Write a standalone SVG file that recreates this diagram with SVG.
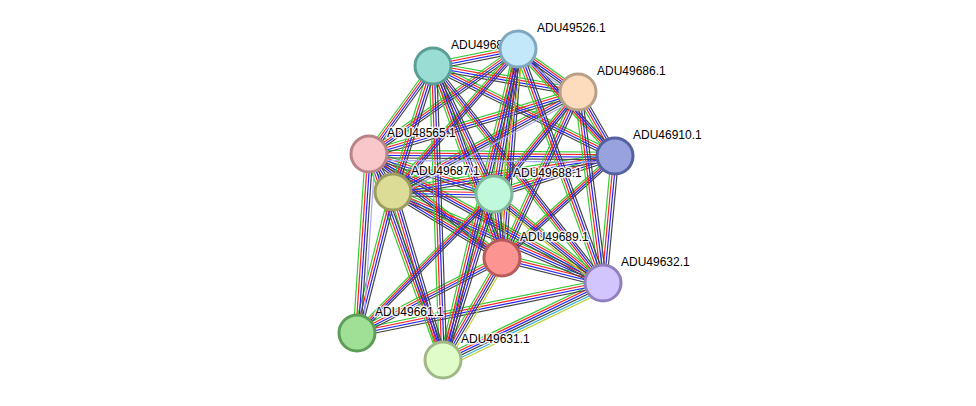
<svg xmlns="http://www.w3.org/2000/svg" xmlns:xlink="http://www.w3.org/1999/xlink" width="976" height="406" viewBox="0 0 976 406">
<style>
.lbl{font-family:"Liberation Sans",Arial,sans-serif;font-size:12px;fill:#000;stroke:#fff;stroke-width:3px;stroke-opacity:0.85;paint-order:stroke;stroke-linejoin:round}
.e{fill:none;stroke-width:1.2}
.nd{stroke-width:3}
</style>
<defs>
<g id="eH">
<line x1="433" y1="66" x2="518" y2="49"/>
<line x1="433" y1="66" x2="578" y2="92"/>
<line x1="433" y1="66" x2="615" y2="156"/>
<line x1="518" y1="49" x2="578" y2="92"/>
<line x1="518" y1="49" x2="369" y2="154"/>
<line x1="578" y1="92" x2="369" y2="154"/>
<line x1="578" y1="92" x2="393" y2="192"/>
<line x1="615" y1="156" x2="369" y2="154"/>
<line x1="615" y1="156" x2="393" y2="192"/>
<line x1="615" y1="156" x2="494" y2="194"/>
<line x1="615" y1="156" x2="502" y2="258"/>
<line x1="369" y1="154" x2="494" y2="194"/>
<line x1="369" y1="154" x2="502" y2="258"/>
<line x1="369" y1="154" x2="603" y2="283"/>
<line x1="393" y1="192" x2="494" y2="194"/>
<line x1="393" y1="192" x2="502" y2="258"/>
<line x1="393" y1="192" x2="603" y2="283"/>
<line x1="494" y1="194" x2="603" y2="283"/>
<line x1="502" y1="258" x2="603" y2="283"/>
<line x1="502" y1="258" x2="357" y2="333"/>
<line x1="603" y1="283" x2="357" y2="333"/>
<line x1="603" y1="283" x2="443" y2="360"/>
</g>
<g id="eV">
<line x1="433" y1="66" x2="369" y2="154"/>
<line x1="433" y1="66" x2="393" y2="192"/>
<line x1="433" y1="66" x2="494" y2="194"/>
<line x1="433" y1="66" x2="502" y2="258"/>
<line x1="433" y1="66" x2="603" y2="283"/>
<line x1="433" y1="66" x2="443" y2="360"/>
<line x1="518" y1="49" x2="615" y2="156"/>
<line x1="518" y1="49" x2="393" y2="192"/>
<line x1="518" y1="49" x2="494" y2="194"/>
<line x1="518" y1="49" x2="502" y2="258"/>
<line x1="518" y1="49" x2="603" y2="283"/>
<line x1="518" y1="49" x2="443" y2="360"/>
<line x1="578" y1="92" x2="615" y2="156"/>
<line x1="578" y1="92" x2="494" y2="194"/>
<line x1="578" y1="92" x2="502" y2="258"/>
<line x1="578" y1="92" x2="603" y2="283"/>
<line x1="615" y1="156" x2="603" y2="283"/>
<line x1="369" y1="154" x2="393" y2="192"/>
<line x1="369" y1="154" x2="357" y2="333"/>
<line x1="369" y1="154" x2="443" y2="360"/>
<line x1="393" y1="192" x2="357" y2="333"/>
<line x1="393" y1="192" x2="443" y2="360"/>
<line x1="494" y1="194" x2="502" y2="258"/>
<line x1="494" y1="194" x2="357" y2="333"/>
<line x1="494" y1="194" x2="443" y2="360"/>
<line x1="502" y1="258" x2="443" y2="360"/>
</g>
</defs>
<rect width="976" height="406" fill="#fff"/>
<g id="connectors" class="e">
<use href="#eH" xlink:href="#eH" stroke="#33cc33" transform="translate(0,-3.75)"/>
<use href="#eH" xlink:href="#eH" stroke="#ff2222" transform="translate(0,-1.25)"/>
<use href="#eH" xlink:href="#eH" stroke="#2222ff" transform="translate(0,1.25)"/>
<use href="#eH" xlink:href="#eH" stroke="#444444" transform="translate(0,3.75)"/>
<use href="#eV" xlink:href="#eV" stroke="#33cc33" transform="translate(-3.75,0)"/>
<use href="#eV" xlink:href="#eV" stroke="#ff2222" transform="translate(-1.25,0)"/>
<use href="#eV" xlink:href="#eV" stroke="#2222ff" transform="translate(1.25,0)"/>
<use href="#eV" xlink:href="#eV" stroke="#444444" transform="translate(3.75,0)"/>
<g stroke="#a8a8f8">
<line x1="518" y1="55.3" x2="578" y2="98.3"/>
<line x1="578" y1="98.3" x2="393" y2="198.3"/>
<line x1="615" y1="162.3" x2="369" y2="160.3"/>
<line x1="375.3" y1="154" x2="363.3" y2="333"/>
</g>
<g stroke="#c0d030">
<line x1="524.3" y1="49" x2="500.3" y2="194"/>
<line x1="500.3" y1="194" x2="508.3" y2="258"/>
<line x1="494" y1="200.3" x2="603" y2="289.3"/>
<line x1="508.3" y1="258" x2="449.3" y2="360"/>
<line x1="603" y1="291.8" x2="443" y2="368.8"/>
</g>
<line stroke="#33b0e0" x1="603" y1="289.3" x2="443" y2="366.3"/>
</g>
<g id="n-ADU49685.1"><text class="lbl" x="451" y="49">ADU49685.1</text><circle class="nd" cx="433" cy="66" r="18" fill="#99ddd4" stroke="#5a9e96"/></g>
<g id="n-ADU49526.1"><text class="lbl" x="537" y="32">ADU49526.1</text><circle class="nd" cx="518" cy="49" r="18" fill="#c2e8fa" stroke="#7fa8c0"/></g>
<g id="n-ADU49686.1"><text class="lbl" x="597" y="75">ADU49686.1</text><circle class="nd" cx="578" cy="92" r="18" fill="#fddcbe" stroke="#b8a088"/></g>
<g id="n-ADU46910.1"><text class="lbl" x="633" y="139">ADU46910.1</text><circle class="nd" cx="615" cy="156" r="18" fill="#98a2dd" stroke="#5560a0"/></g>
<g id="n-ADU48565.1"><text class="lbl" x="387" y="137">ADU48565.1</text><circle class="nd" cx="369" cy="154" r="18" fill="#f9c6c9" stroke="#b88488"/></g>
<g id="n-ADU49687.1"><text class="lbl" x="411" y="175">ADU49687.1</text><circle class="nd" cx="393" cy="192" r="18" fill="#dcdc96" stroke="#9c9c60"/></g>
<g id="n-ADU49688.1"><text class="lbl" x="513" y="177">ADU49688.1</text><circle class="nd" cx="494" cy="194" r="18" fill="#c0f8dc" stroke="#80b898"/></g>
<g id="n-ADU49689.1"><text class="lbl" x="520" y="241">ADU49689.1</text><circle class="nd" cx="502" cy="258" r="18" fill="#fc9492" stroke="#b85a5a"/></g>
<g id="n-ADU49632.1"><text class="lbl" x="621" y="266">ADU49632.1</text><circle class="nd" cx="603" cy="283" r="18" fill="#d2c4fc" stroke="#9080c0"/></g>
<g id="n-ADU49661.1"><text class="lbl" x="375" y="316">ADU49661.1</text><circle class="nd" cx="357" cy="333" r="18" fill="#9fe096" stroke="#5c9e58"/></g>
<g id="n-ADU49631.1"><text class="lbl" x="461" y="343">ADU49631.1</text><circle class="nd" cx="443" cy="360" r="18" fill="#e0fcc8" stroke="#a0b888"/></g>
</svg>
